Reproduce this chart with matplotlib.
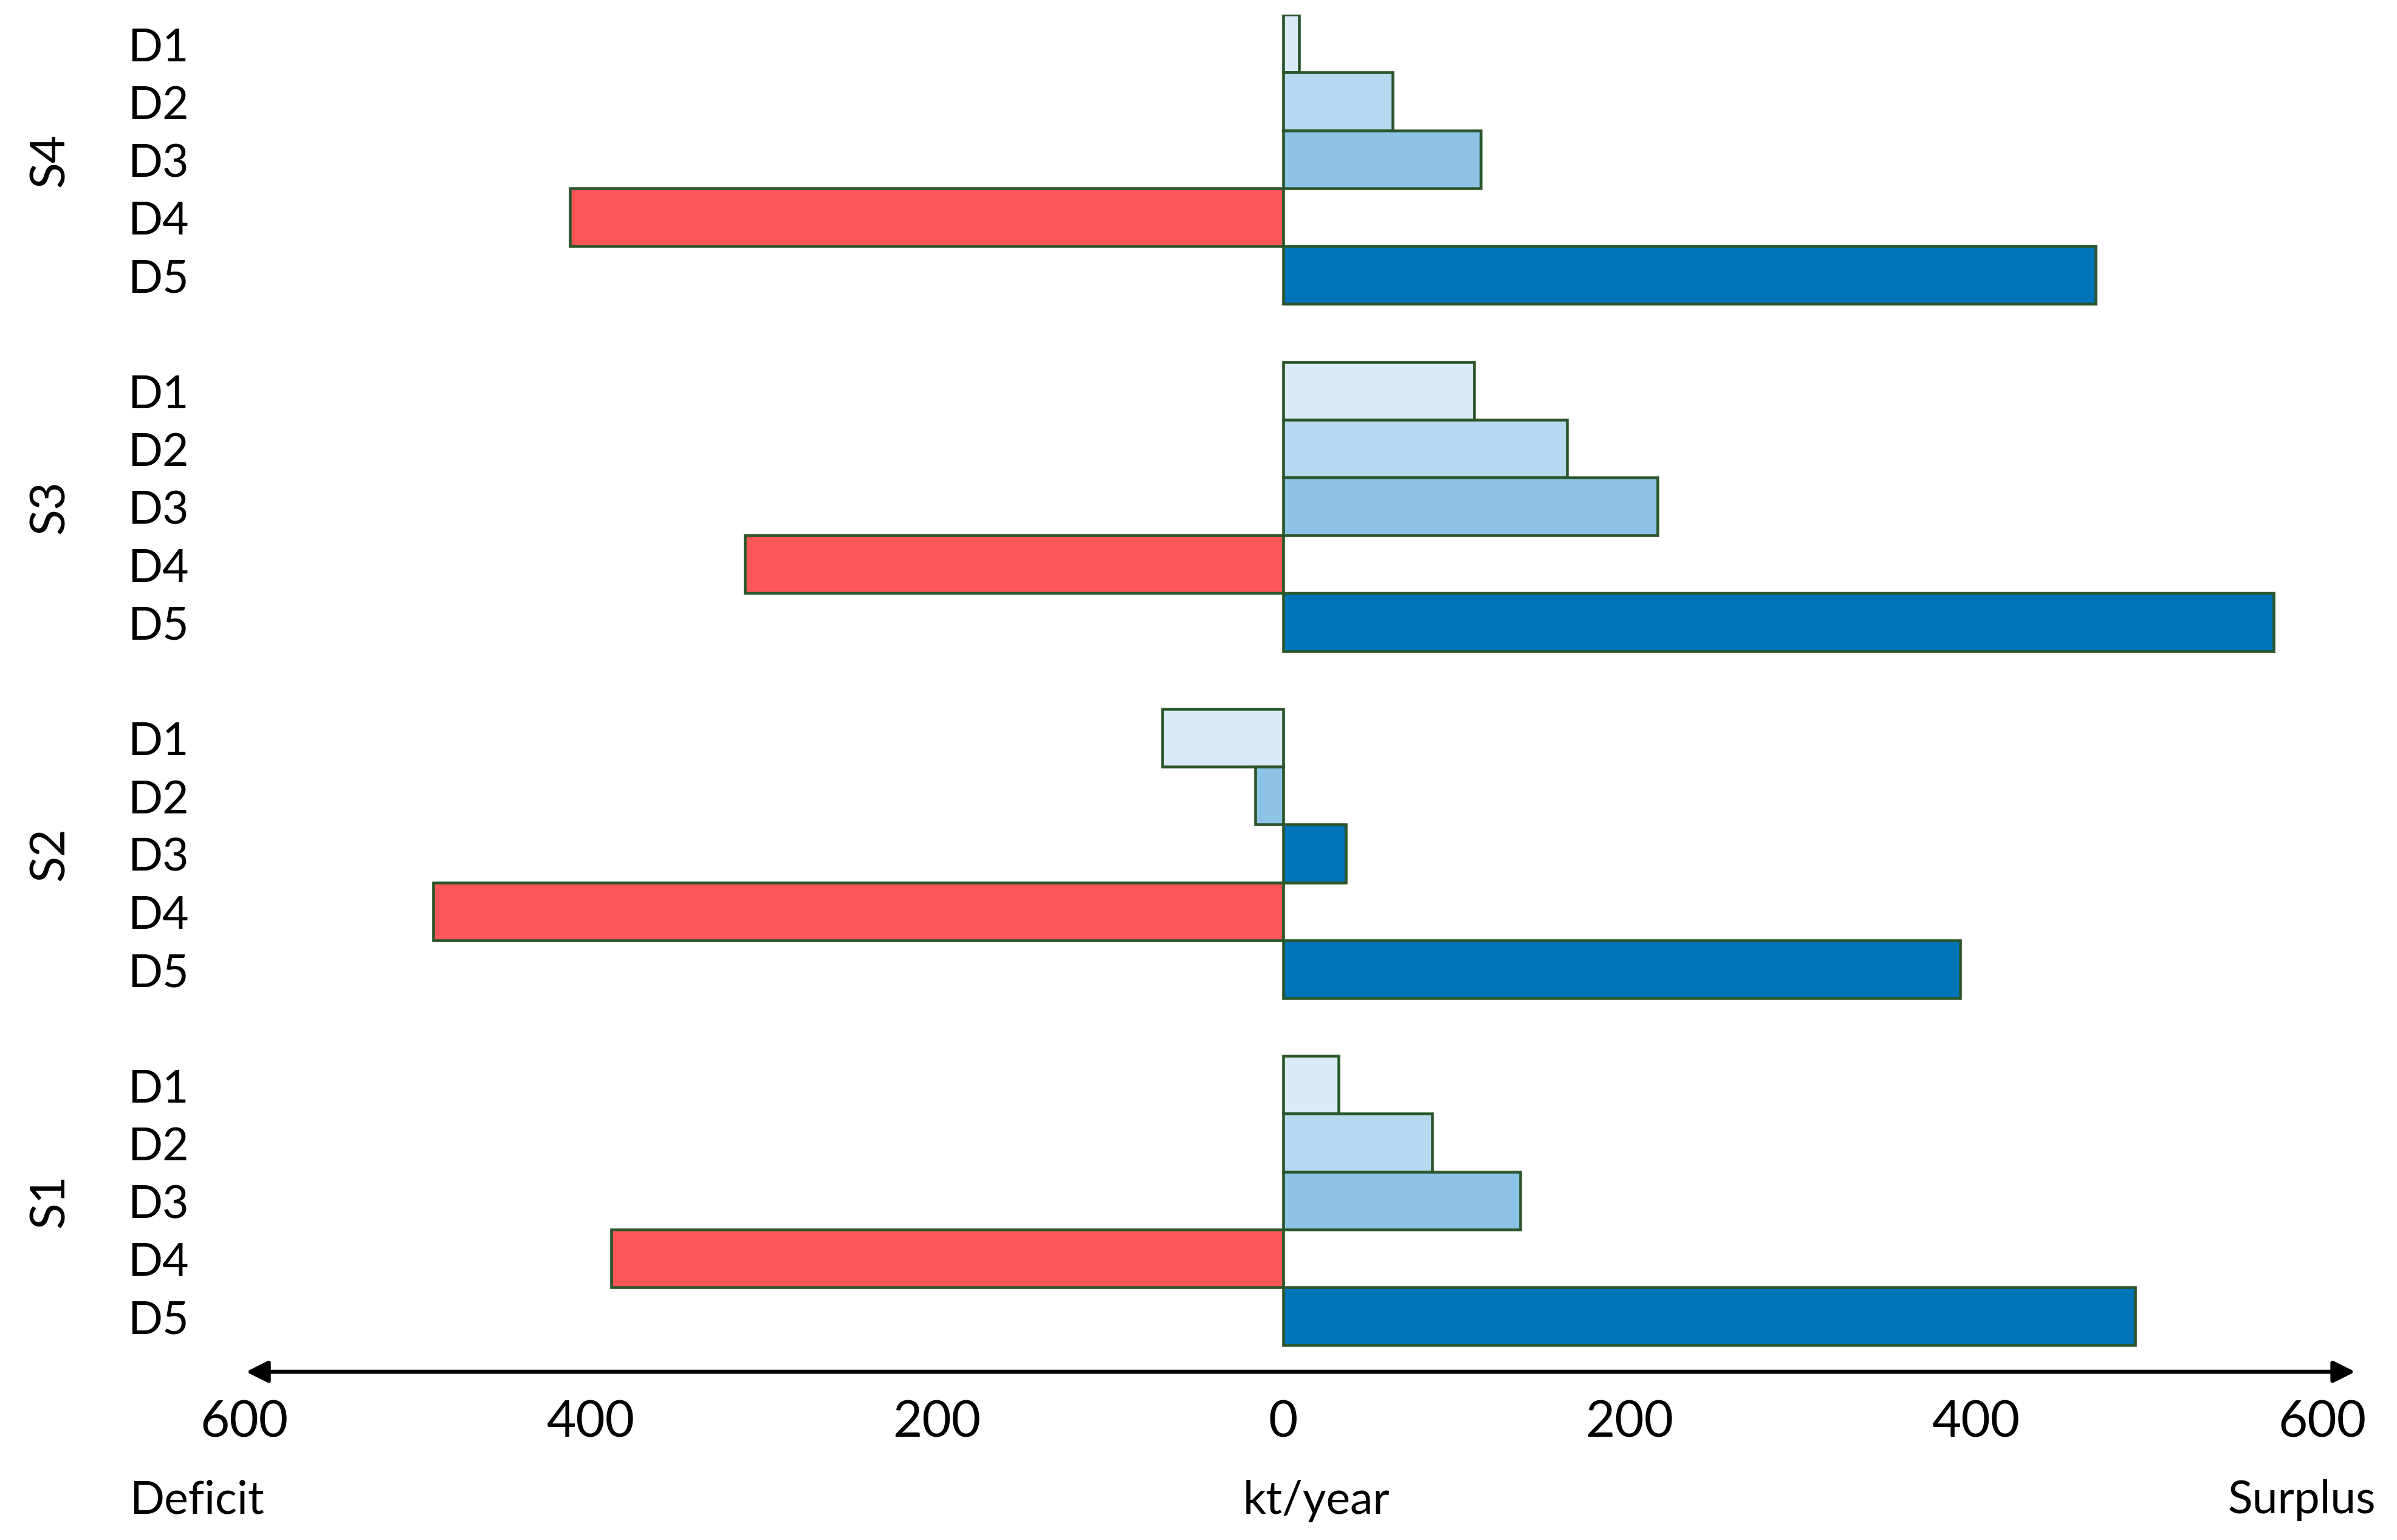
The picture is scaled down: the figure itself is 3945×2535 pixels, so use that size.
import matplotlib.pyplot as plt
import matplotlib.transforms as mtransforms

# values in kt/year (negative = deficit)
scenarios = ['S4', 'S3', 'S2', 'S1']
demands = ['D1', 'D2', 'D3', 'D4', 'D5']
s4_vals = [9, 63, 114, -412, 469]
s3_vals = [110, 164, 216, -311, 572]
s2_vals = [-70, -16, 36, -491, 391]
s1_vals = [32, 86, 137, -388, 492]
tick_vals = [-600, -400, -200, 0, 200, 400, 600]
tick_labels = ['600', '400', '200', '0', '200', '400', '600']

base_colors = ['#DAEBF7', '#B7D8EE', '#8DC3E7', '#FF5757', '#0074B7']
s2_colors = ['#DAEBF7', '#8DC3E7', '#0074B7', '#FF5757', '#0074B7']
edge = '#2A562A'

plt.rcParams['font.family'] = ['Lato', 'DejaVu Sans']

fig = plt.figure(figsize=(13.153, 8.453), dpi=300)
ax = fig.add_axes([0.1019, 0.1077, 0.8667, 0.8824])

groups = [(s4_vals, base_colors), (s3_vals, base_colors),
          (s2_vals, s2_colors), (s1_vals, base_colors)]

ypos = []
ylabels = []
centers = []
for g, (vals, cols) in enumerate(groups):
    y = [g * 6 + i for i in range(len(demands))]
    ax.barh(y, vals, height=1.0, color=cols, edgecolor=edge, linewidth=1.1)
    ypos += y
    ylabels += demands
    centers.append(y[2])

ax.set_xlim(-600, 600)
ax.set_ylim(23.0, -0.5)

ax.set_yticks(ypos)
ax.set_yticklabels(ylabels, fontsize=18)
ax.tick_params(axis='y', length=0, pad=22)
ax.set_xticks(tick_vals)
ax.set_xticklabels(tick_labels, fontsize=20)
ax.tick_params(axis='x', length=0, pad=10)
for sp in ax.spines.values():
    sp.set_visible(False)

# double headed axis arrow
ax.annotate('', xy=(-599, 22.96), xytext=(619, 22.96),
            arrowprops=dict(arrowstyle='<|-|>', color='black', lw=1.6,
                            mutation_scale=18, shrinkA=0, shrinkB=0),
            annotation_clip=False)

# scenario labels on the left
trans = mtransforms.blended_transform_factory(fig.transFigure, ax.transData)
for name, c in zip(scenarios, centers):
    ax.text(0.021, c, name, transform=trans, rotation=90, fontsize=19,
            ha='center', va='center')

fig.text(0.082, 0.026, 'Deficit', fontsize=18, ha='center', va='center')
fig.text(0.549, 0.026, 'kt/year', fontsize=18, ha='center', va='center')
fig.text(0.960, 0.026, 'Surplus', fontsize=18, ha='center', va='center')

fig.savefig('out.png', dpi=300, facecolor='white')
